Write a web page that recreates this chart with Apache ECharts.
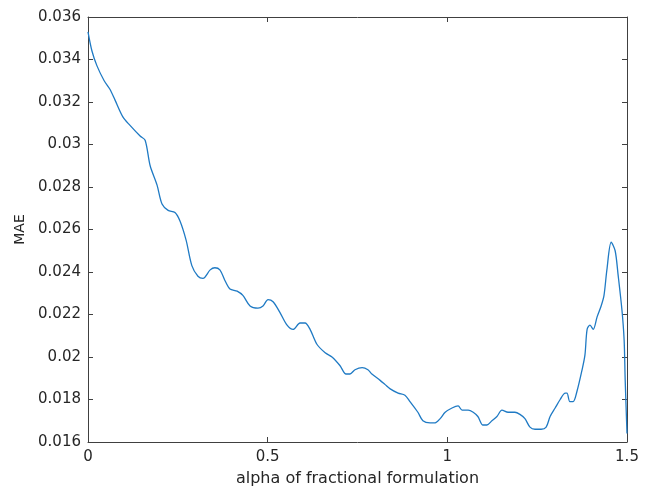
<!DOCTYPE html>
<html>
<head>
<meta charset="utf-8">
<script src="https://cdn.jsdelivr.net/npm/echarts@6/dist/echarts.min.js"></script>
<style>html,body{margin:0;padding:0;background:#fff;}#c{width:647px;height:493px;}</style>
</head>
<body>
<div id="c"></div>
<script>
const alpha = [0,0.011,0.025,0.045,0.061,0.075,0.097,0.117,0.145,0.159,0.173,0.192,0.206,0.223,0.242,0.256,0.273,0.289,0.306,0.320,0.340,0.353,0.367,0.381,0.395,0.415,0.431,0.451,0.473,0.487,0.501,0.515,0.534,0.554,0.571,0.590,0.604,0.618,0.637,0.660,0.679,0.701,0.718,0.729,0.743,0.763,0.779,0.790,0.813,0.827,0.841,0.863,0.882,0.896,0.918,0.932,0.952,0.966,0.980,0.994,1.013,1.030,1.041,1.058,1.072,1.085,1.099,1.110,1.124,1.138,1.152,1.169,1.188,1.202,1.216,1.230,1.244,1.261,1.275,1.286,1.300,1.314,1.328,1.333,1.341,1.350,1.361,1.375,1.383,1.389,1.397,1.406,1.417,1.428,1.436,1.444,1.456,1.467,1.475,1.486,1.492,1.495,1.5];
const mae = [0.0353,0.0344,0.0337,0.0330,0.0326,0.0321,0.0313,0.0309,0.0304,0.0302,0.0290,0.0281,0.0272,0.0269,0.0268,0.0264,0.0255,0.0243,0.0238,0.0237,0.0241,0.0242,0.0241,0.0236,0.0232,0.0231,0.0229,0.0224,0.0223,0.0224,0.0227,0.0226,0.0221,0.0215,0.0213,0.0216,0.0216,0.0213,0.0206,0.0202,0.0200,0.0196,0.0192,0.0192,0.0194,0.0195,0.0194,0.0192,0.0189,0.0187,0.0185,0.0183,0.0182,0.0179,0.0174,0.0170,0.0169,0.0169,0.0171,0.0174,0.0176,0.0177,0.0175,0.0175,0.0174,0.0172,0.0168,0.0168,0.0170,0.0172,0.0175,0.0174,0.0174,0.0173,0.0171,0.0167,0.0166,0.0166,0.0167,0.0172,0.0176,0.0180,0.0183,0.0183,0.0179,0.0179,0.0184,0.0194,0.0201,0.0213,0.0215,0.0213,0.0219,0.0224,0.0229,0.0241,0.0254,0.0250,0.0239,0.0222,0.0208,0.0189,0.0164];
const xTicks = [0, 0.5, 1, 1.5];
const yTicks = [0.016,0.018,0.02,0.022,0.024,0.026,0.028,0.03,0.032,0.034,0.036];
const xLabel = 'alpha of fractional formulation';
const yLabel = 'MAE';

const axisColor = '#404040';
const textColor = '#262626';
const font = 'DejaVu Sans, Liberation Sans, Arial, sans-serif';
const fmt = v => String(parseFloat(Number(v).toFixed(4)));

const chart = echarts.init(document.getElementById('c'));
const baseX = {
  type: 'value', min: xTicks[0], max: xTicks[xTicks.length-1], interval: 0.5,
  axisLine: {show: true, onZero: false, lineStyle: {color: axisColor, width: 1}},
  axisTick: {show: true, inside: true, length: 5, lineStyle: {color: axisColor}},
  splitLine: {show: false}
};
const baseY = {
  type: 'value', min: yTicks[0], max: yTicks[yTicks.length-1], interval: 0.002,
  axisLine: {show: true, onZero: false, lineStyle: {color: axisColor, width: 1}},
  axisTick: {show: true, inside: true, length: 5, lineStyle: {color: axisColor}},
  splitLine: {show: false}
};
chart.setOption({
  animation: false,
  backgroundColor: '#fff',
  grid: {left: 88, right: 20, top: 17, bottom: 51, containLabel: false},
  xAxis: [
    Object.assign({}, baseX, {
      position: 'bottom',
      name: xLabel, nameLocation: 'middle', nameGap: 29,
      nameTextStyle: {color: textColor, fontSize: 16, fontFamily: font},
      axisLabel: {color: textColor, fontSize: 15, fontFamily: font, margin: 8, formatter: fmt}
    }),
    Object.assign({}, baseX, {position: 'top', axisLabel: {show: false}})
  ],
  yAxis: [
    Object.assign({}, baseY, {
      position: 'left',
      name: yLabel, nameLocation: 'middle', nameGap: 57, nameRotate: 90,
      nameTextStyle: {color: textColor, fontSize: 14, fontFamily: font},
      axisLabel: {color: textColor, fontSize: 15, fontFamily: font, margin: 7, formatter: fmt}
    }),
    Object.assign({}, baseY, {position: 'right', axisLabel: {show: false}})
  ],
  series: [{
    type: 'line',
    data: alpha.map((a, i) => [a, mae[i]]),
    showSymbol: false,
    smooth: 0.3,
    lineStyle: {color: '#1f7ac4', width: 1.3},
    xAxisIndex: 0, yAxisIndex: 0
  }]
});
</script>
</body>
</html>
